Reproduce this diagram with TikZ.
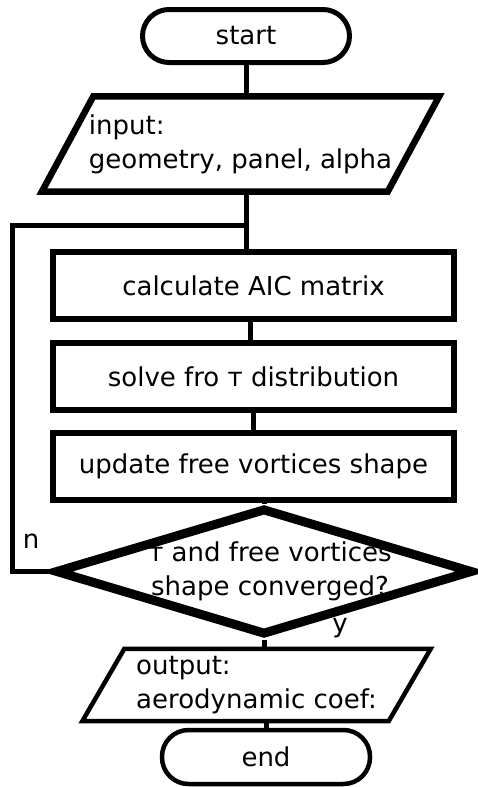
\documentclass[tikz,border=0pt]{standalone}
\usepackage{fontspec}
\setmainfont{DejaVu Sans}
\usetikzlibrary{shapes.geometric,calc}
\begin{document}
\begin{tikzpicture}[x=1pt,y=-1pt,
  every node/.style={font=\fontsize{26}{34}\selectfont, inner sep=0pt},
  term/.style={draw, rectangle, rounded corners=26.5pt, minimum width=207pt,
    minimum height=53pt, line width=5pt},
  io/.style={rectangle, align=left},
  ioframe/.style={draw, line join=miter},
  procbox/.style={draw, rectangle, minimum width=401pt, minimum height=67pt,
    line width=5.5pt},
  decision/.style={draw, diamond, minimum width=418pt, minimum height=127pt,
    line width=9pt},
  link/.style={line width=5pt},
]
\useasboundingbox (0,0) rectangle (478,787);

% terminals, input/output and process steps
\node[term] (start) at (246,36) {start};
\node[io, minimum width=397pt, minimum height=95pt]
  (in) at (240.5,144) {input:\\geometry, panel, alpha};
\draw[ioframe, line width=6.5pt] ([xshift=51.5pt]in.north west) -- (in.north east)
  -- ([xshift=-51.5pt]in.south east) -- (in.south west) -- cycle;
\node[procbox] (b1) at (253.5,285.5) {calculate AIC matrix};
\node[procbox] (b2) at (253.5,376.5) {solve fro т distribution};
\node[procbox] (b3) at (253.5,466.5) {update free vortices shape};
\node[decision] (dec) at (264,571.5) {};
\node[align=center] (dectext) at ([xshift=6pt]dec.center)
  {т and free vortices\\shape converged?};
\node[io, minimum width=348pt, minimum height=72pt]
  (out) at (256.5,685) {output:\\aerodynamic coef:};
\draw[ioframe, line width=4.5pt] ([xshift=42pt]out.north west) -- (out.north east)
  -- ([xshift=-42pt]out.south east) -- (out.south west) -- cycle;
\node[term, line width=4.5pt, minimum width=208pt, minimum height=54pt]
  (end) at (266,757) {end};

% branch labels
\node (nlab) at (31,541) {n};
\node (ylab) at (340,628) {y};

% connectors
\coordinate (join) at (246,225);
\coordinate (loopcorner) at (12,225);
\draw[link] (start.south) -- (start.south |- in.north);
\draw[link] (start.south |- in.south) -- (start.south |- b1.north);
\draw[link] ([xshift=-3pt]b1.south) -- ([xshift=-3pt]b1.south |- b2.north);
\draw[link] (b2.south) -- (b2.south |- b3.north);
\draw[link] (dec.north |- b3.south) -- (dec.north);
\draw[link] (dec.south) -- (dec.south |- out.north);
\draw[link] (end.north |- out.south) -- (end.north);
\draw[link, line join=miter] (dec.west) -| (loopcorner) -- (join);
\end{tikzpicture}
\end{document}
